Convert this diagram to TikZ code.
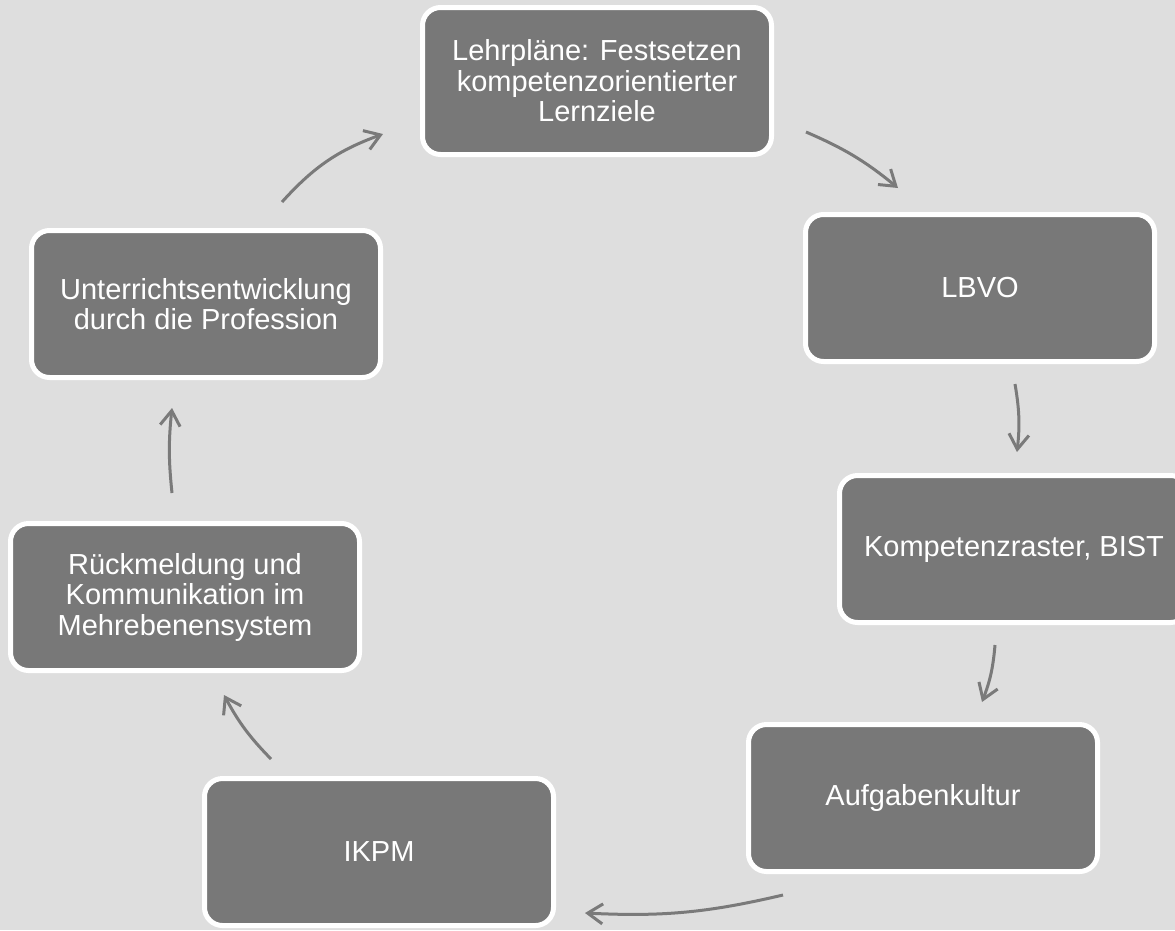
\documentclass[tikz,border=0pt]{standalone}
\usepackage{fontspec}
\setmainfont{Liberation Sans}
\usetikzlibrary{arrows.meta}
\definecolor{bg}{HTML}{DEDEDE}
\definecolor{boxgray}{HTML}{787878}
\definecolor{arrowgray}{HTML}{7A7A7A}
\newcommand{\boxfont}{\fontsize{29}{30.5}\selectfont}
\tikzset{
  stagebox/.style={draw=white, line width=5pt, fill=boxgray, rounded corners=18pt,
    minimum width=349pt, minimum height=147pt, text=white, align=center,
    font=\boxfont, inner sep=0pt},
  cyclearrow/.style={draw=arrowgray, line width=3pt,
    -{Straight Barb[length=15pt,width=20pt,line width=3pt]}}
}
\begin{document}
\begin{tikzpicture}[x=1pt,y=-1pt]
\useasboundingbox (0,0) rectangle (1175,930);
\fill[bg] (0,0) rectangle (1175,930);
\begin{scope}
\clip (0,0) rectangle (1175,930);
\node[stagebox] (lehr) at (597,81) {Lehrpläne: Festsetzen\\kompetenzorientierter\\Lernziele};
\node[stagebox] (lbvo) at (980,288) {LBVO};
\node[stagebox] (komp) at (1014,549) {Kompetenzraster, BIST};
\node[stagebox] (aufg) at (923,798) {Aufgabenkultur};
\node[stagebox] (ikpm) at (379,852) {IKPM};
\node[stagebox] (rueck) at (185,597) {Rückmeldung und\\Kommunikation im\\Mehrebenensystem};
\node[stagebox] (unter) at (206,304) {Unterrichtsentwicklung\\durch die Profession};
\end{scope}
\coordinate (a1s) at (282,202); \coordinate (a1e) at (383,134);
\coordinate (a2s) at (806,132); \coordinate (a2e) at (898,188);
\coordinate (a3s) at (1015,384); \coordinate (a3e) at (1017,452);
\coordinate (a4s) at (995,645); \coordinate (a4e) at (982,702);
\coordinate (a5s) at (783,895); \coordinate (a5e) at (585,913);
\coordinate (a6s) at (271,759); \coordinate (a6e) at (224,695);
\coordinate (a7s) at (172,493); \coordinate (a7e) at (172,408);
\draw[cyclearrow] (a1s) to[bend left=14] (a1e);
\draw[cyclearrow] (a2s) to[bend left=8] (a2e);
\draw[cyclearrow] (a3s) to[bend left=8] (a3e);
\draw[cyclearrow] (a4s) to[bend left=8] (a4e);
\draw[cyclearrow] (a5s) to[bend left=8] (a5e);
\draw[cyclearrow] (a6s) to[bend left=8] (a6e);
\draw[cyclearrow] (a7s) to[bend left=6] (a7e);
\end{tikzpicture}
\end{document}
